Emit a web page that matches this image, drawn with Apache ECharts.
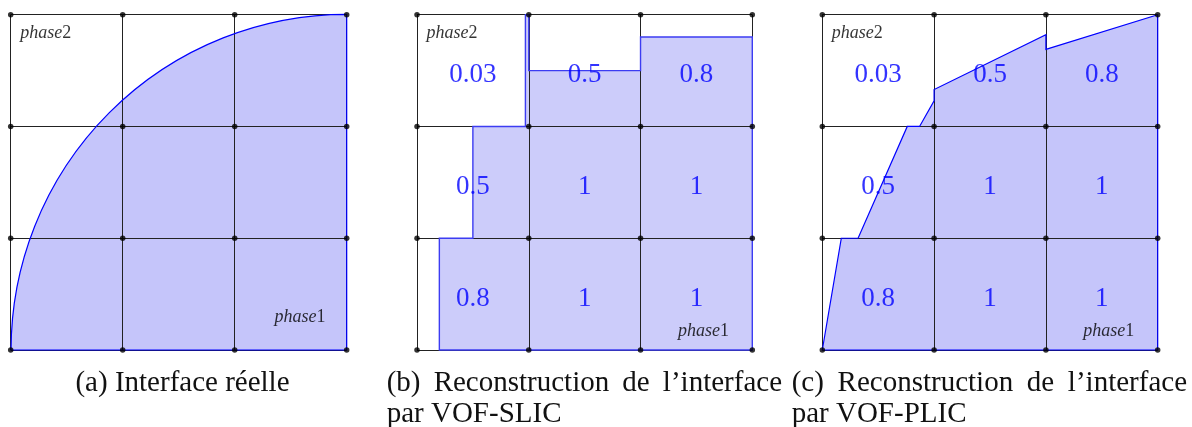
<!DOCTYPE html>
<html>
<head>
<meta charset="utf-8">
<script src="https://cdn.jsdelivr.net/npm/echarts@6/dist/echarts.min.js"></script>
<style>
html, body { margin: 0; padding: 0; background: #fff; }
#main { width: 1192px; height: 427px; }
</style>
</head>
<body>
<div id="main"></div>
<script>
// grid nodes, same for all three panels (3x3 cells)
const nodeTicks = [0, 1, 2, 3];

// cell centres and volume fractions, bottom row first
const cellCenters = [0.5, 1.5, 2.5];
const fractionRows = [
    [0.8, 1, 1],
    [0.5, 1, 1],
    [0.03, 0.5, 0.8]
];

// (a) real interface : quarter circle around the bottom-right corner
const arcCenter = [3, 0];
const arcRadius = 3;

// (b) VOF-SLIC reconstruction, outline of phase 1
const slicPoly = [
    [0.2, 0], [0.2, 1], [0.5, 1], [0.5, 2], [0.97, 2], [0.97, 3], [1, 3],
    [1, 2.5], [2, 2.5], [2, 2.8], [3, 2.8], [3, 0]
];

// (c) VOF-PLIC reconstruction, outline of phase 1
const plicPoly = [
    [0, 0], [0.17, 1], [0.32, 1], [0.76, 2], [0.87, 2], [1, 2.23], [1, 2.33],
    [2, 2.82], [2, 2.69], [3, 3], [3, 0]
];

// phase labels [x, y] in cell units
const phase2Pos = [0.08, 2.83];
const phase1Pos = [[2.35, 0.29], [2.33, 0.17], [2.33, 0.17]];

const serif = '"Liberation Serif", "DejaVu Serif", serif';

const grids = [
    { left: 10.7, top: 14.7, width: 336, height: 335.3 },
    { left: 417, top: 14.7, width: 335.3, height: 335.3 },
    { left: 822.3, top: 14.7, width: 335.4, height: 335.3 }
];

const axisBase = (i) => ({
    gridIndex: i,
    type: 'value',
    min: 0,
    max: 3,
    interval: 1,
    z: 2,
    axisLine: { show: false },
    axisTick: { show: false },
    axisLabel: { show: false },
    splitLine: { show: true, lineStyle: { color: '#222', width: 1 } }
});

const nodes = [];
nodeTicks.forEach(x => nodeTicks.forEach(y => nodes.push([x, y])));

const fractionData = [];
fractionRows.forEach((row, r) => row.forEach((v, c) => {
    fractionData.push([cellCenters[c], cellCenters[r] - 0.04, v]);
}));

const polySeries = (idx, pts, fill, stroke, lw, part) => ({
    type: 'custom',
    xAxisIndex: idx,
    yAxisIndex: idx,
    z: part === 'fill' ? 1 : 3,
    silent: true,
    data: [[0, 0]],
    renderItem: (params, api) => ({
        type: 'polygon',
        shape: { points: pts.map(p => api.coord(p)) },
        style: part === 'fill'
            ? { fill: fill, stroke: null }
            : { fill: null, stroke: stroke, lineWidth: lw, lineJoin: 'miter' }
    })
});

const sectorSeries = (part) => ({
    type: 'custom',
    xAxisIndex: 0,
    yAxisIndex: 0,
    z: part === 'fill' ? 1 : 3,
    silent: true,
    data: [[0, 0]],
    renderItem: (params, api) => {
        const c = api.coord(arcCenter);
        const r = api.size([arcRadius, arcRadius]);
        return {
            type: 'sector',
            shape: {
                cx: c[0], cy: c[1], r0: 0, r: (r[0] + r[1]) / 2,
                startAngle: Math.PI, endAngle: Math.PI * 1.5, clockwise: true
            },
            style: part === 'fill'
                ? { fill: '#c5c5fa', stroke: null }
                : { fill: null, stroke: '#0000ff', lineWidth: 1.2 }
        };
    }
});

const series = [];
series.push(sectorSeries('fill'), sectorSeries('line'));
series.push(polySeries(1, slicPoly, '#ccccfa', null, 1, 'fill'));
series.push(polySeries(1, slicPoly, null, '#3c3cf2', 1.4, 'line'));
series.push(polySeries(2, plicPoly, '#c5c5fa', null, 1, 'fill'));
series.push(polySeries(2, plicPoly, null, '#0000ff', 1.2, 'line'));

for (let i = 0; i < 3; i++) {
    series.push({
        type: 'scatter',
        xAxisIndex: i,
        yAxisIndex: i,
        z: 4,
        clip: false,
        silent: true,
        symbolSize: 5.5,
        itemStyle: { color: '#000' },
        data: nodes
    });
    series.push({
        type: 'scatter',
        xAxisIndex: i,
        yAxisIndex: i,
        z: 5,
        silent: true,
        symbolSize: 1,
        itemStyle: { color: 'rgba(0,0,0,0)' },
        label: {
            show: true,
            position: 'right',
            distance: 0,
            formatter: (p) => p.dataIndex === 0 ? '{i|phase}{n|2}' : '{i|phase}{n|1}',
            rich: {
                i: { fontFamily: serif, fontStyle: 'italic', fontSize: 18, color: '#000' },
                n: { fontFamily: serif, fontSize: 18, color: '#000' }
            }
        },
        data: [phase2Pos, phase1Pos[i]]
    });
    if (i > 0) {
        series.push({
            type: 'scatter',
            xAxisIndex: i,
            yAxisIndex: i,
            z: 5,
            silent: true,
            symbolSize: 1,
            itemStyle: { color: 'rgba(0,0,0,0)' },
            label: {
                show: true,
                position: 'inside',
                formatter: (p) => String(p.value[2]),
                fontFamily: serif,
                fontSize: 27,
                color: '#0000ff'
            },
            data: fractionData
        });
    }
}

// captions (justified first line like the LaTeX subcaptions)
const capFont = '29px ' + serif;
const measureCtx = document.createElement('canvas').getContext('2d');
measureCtx.font = capFont;

const capText = (text, x, y, align) => ({
    type: 'text',
    x: x,
    y: y,
    silent: true,
    style: {
        text: text,
        font: capFont,
        fill: '#111',
        textAlign: align, align: align,
        textVerticalAlign: 'middle', verticalAlign: 'middle'
    }
});

const justify = (words, x0, x1, y) => {
    const widths = words.map(w => measureCtx.measureText(w).width);
    const total = widths.reduce((a, b) => a + b, 0);
    const gap = (x1 - x0 - total) / (words.length - 1);
    let x = x0;
    return words.map((w, k) => {
        const el = capText(w, x, y, 'left');
        x += widths[k] + gap;
        return el;
    });
};

const graphic = [
    capText('(a) Interface réelle', 182.5, 383, 'center'),
    ...justify(['(b)', 'Reconstruction', 'de', 'l’interface'], 386.7, 782, 383),
    capText('par VOF-SLIC', 386.7, 414, 'left'),
    ...justify(['(c)', 'Reconstruction', 'de', 'l’interface'], 791.7, 1187, 383),
    capText('par VOF-PLIC', 791.7, 414, 'left')
];

const myChart = echarts.init(document.getElementById('main'));
myChart.setOption({
    animation: false,
    backgroundColor: '#fff',
    grid: grids,
    xAxis: [0, 1, 2].map(axisBase),
    yAxis: [0, 1, 2].map(axisBase),
    series: series,
    graphic: graphic
});
</script>
</body>
</html>
